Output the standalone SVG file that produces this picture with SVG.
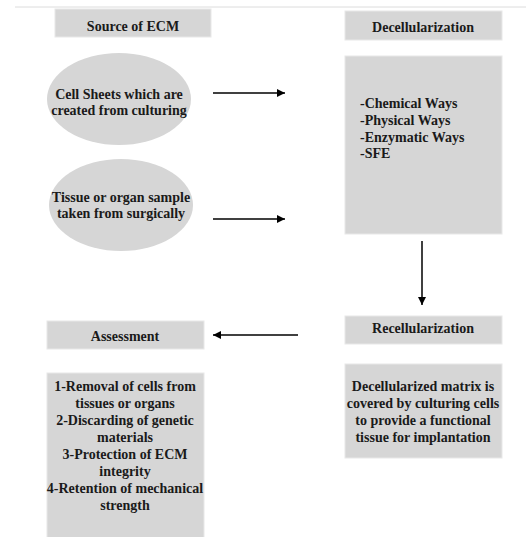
<svg xmlns="http://www.w3.org/2000/svg" width="526" height="537" viewBox="0 0 526 537">
<style>
.box{fill:#d6d6d6;stroke:#e8e8e8;stroke-width:1}
.t{font-family:"Liberation Serif","Times New Roman",serif;font-weight:bold;font-size:14px;fill:#1a1a1a;text-anchor:middle}
.tl{font-family:"Liberation Serif","Times New Roman",serif;font-weight:bold;font-size:14px;fill:#1a1a1a}
.c{stroke:#000;stroke-width:1.5;fill:none}
</style>
<defs>
<marker id="ah" viewBox="0 0 10 10" refX="10" refY="5" markerWidth="8" markerHeight="8" markerUnits="userSpaceOnUse" orient="auto">
<path d="M0,0 L10,5 L0,10 z" fill="#000"/>
</marker>
</defs>
<rect width="526" height="537" fill="#fff"/>
<line x1="15" y1="7" x2="526" y2="7" stroke="#dcdcdc" stroke-width="1"/>
<g id="source">
<rect class="box" x="55" y="9" width="156" height="28"/>
<text class="t" x="133" y="31">Source of ECM</text>
</g>
<g id="decell">
<rect class="box" x="345" y="11" width="157" height="29"/>
<text class="t" x="423" y="32">Decellularization</text>
</g>
<g id="cellsheets">
<ellipse cx="119" cy="99" rx="72" ry="46" fill="#d6d6d6"/>
<text class="t" x="119" y="99">Cell Sheets which are</text>
<text class="t" x="119" y="115">created from culturing</text>
</g>
<g id="tissue">
<ellipse cx="121" cy="205" rx="72" ry="46" fill="#d6d6d6"/>
<text class="t" x="121" y="202">Tissue or organ sample</text>
<text class="t" x="121" y="218">taken from surgically</text>
</g>
<g id="decellways">
<rect class="box" x="345" y="56" width="157" height="178"/>
<text class="tl" x="360" y="108">-Chemical Ways</text>
<text class="tl" x="360" y="125">-Physical Ways</text>
<text class="tl" x="360" y="142">-Enzymatic Ways</text>
<text class="tl" x="360" y="158">-SFE</text>
</g>
<g id="recell">
<rect class="box" x="345" y="316" width="157" height="28"/>
<text class="t" x="423" y="333">Recellularization</text>
</g>
<g id="assessment">
<rect class="box" x="47" y="321" width="157" height="28"/>
<text class="t" x="125" y="341">Assessment</text>
</g>
<g id="recelldesc">
<rect class="box" x="345" y="364" width="157" height="94"/>
<text class="t" x="423" y="391">Decellularized matrix is</text>
<text class="t" x="423" y="408">covered by culturing cells</text>
<text class="t" x="423" y="425">to provide a functional</text>
<text class="t" x="423" y="442">tissue for implantation</text>
</g>
<g id="assessdesc">
<rect class="box" x="47" y="373" width="157" height="170"/>
<text class="t" x="125" y="391">1-Removal of cells from</text>
<text class="t" x="125" y="408">tissues or organs</text>
<text class="t" x="125" y="425">2-Discarding of genetic</text>
<text class="t" x="125" y="442">materials</text>
<text class="t" x="125" y="459">3-Protection of ECM</text>
<text class="t" x="125" y="476">integrity</text>
<text class="t" x="125" y="493">4-Retention of mechanical</text>
<text class="t" x="125" y="510">strength</text>
</g>
<g id="connectors">
<line class="c" x1="213" y1="93" x2="285" y2="93" marker-end="url(#ah)"/>
<line class="c" x1="213" y1="219" x2="285" y2="219" marker-end="url(#ah)"/>
<line class="c" x1="422" y1="241" x2="422" y2="305" marker-end="url(#ah)"/>
<line class="c" x1="298" y1="335" x2="213" y2="335" marker-end="url(#ah)"/>
</g>
</svg>
